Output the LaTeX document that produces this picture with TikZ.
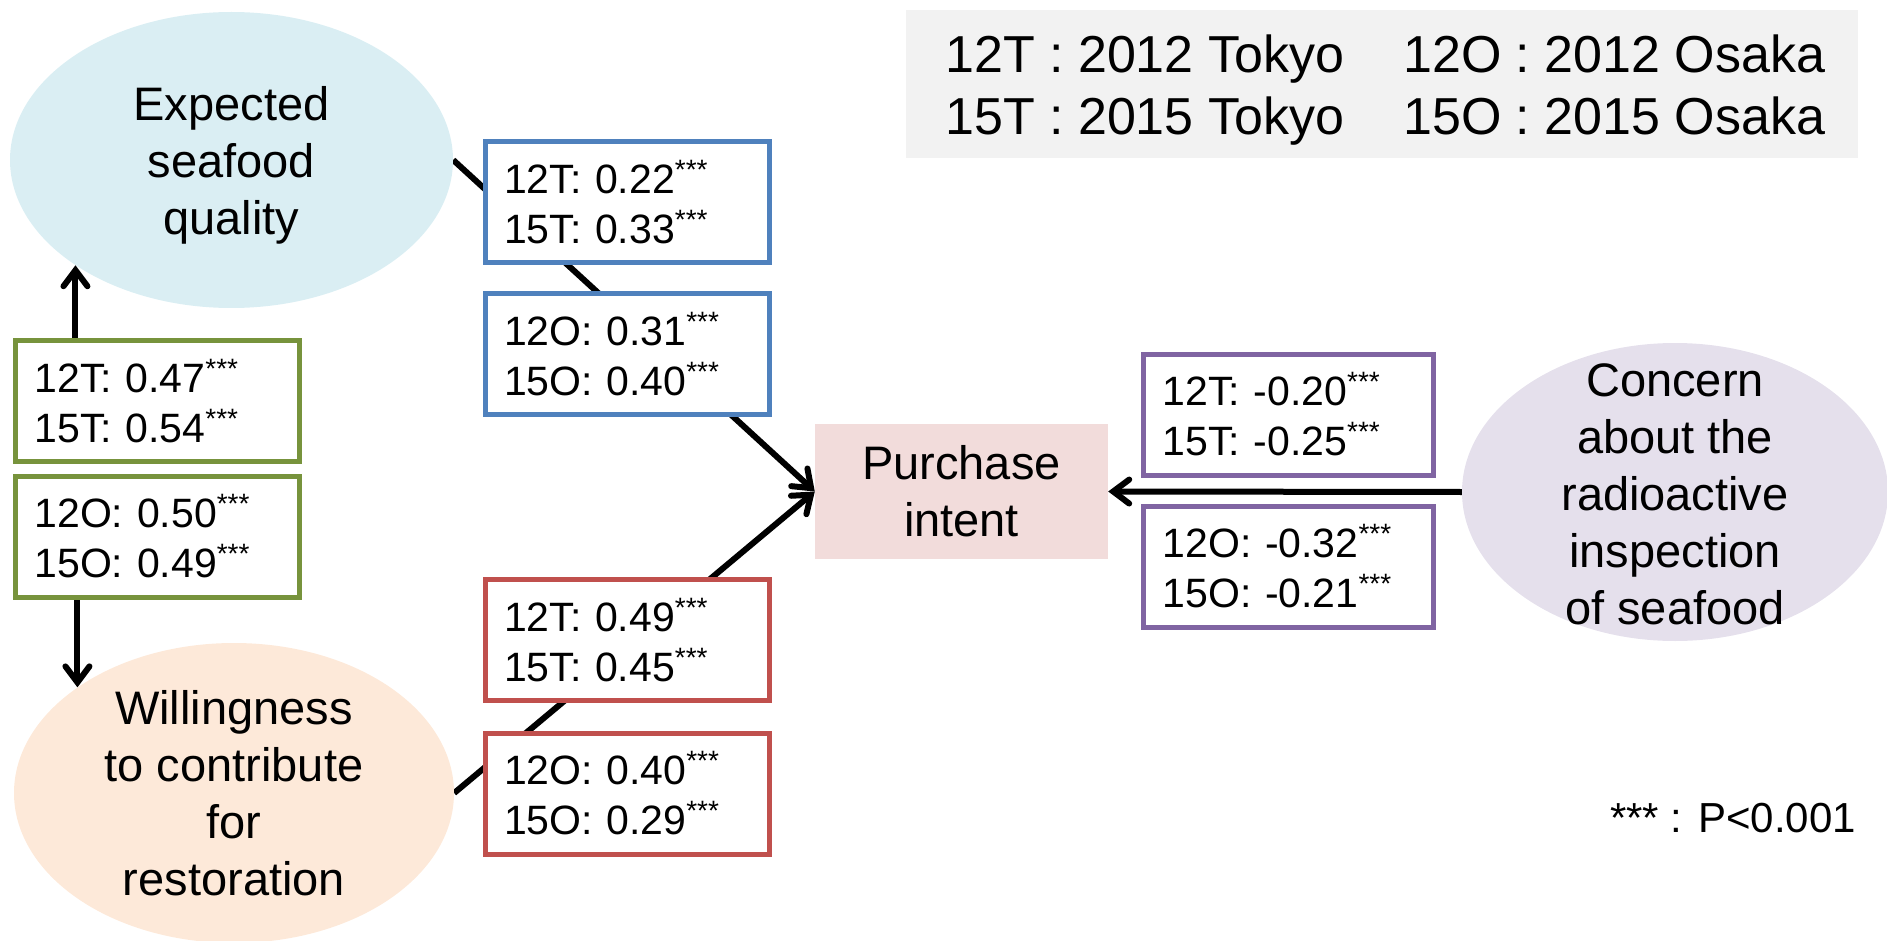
\documentclass[tikz,border=0pt]{standalone}
\usepackage{fontspec}
\setmainfont{Liberation Sans}
\usetikzlibrary{shapes.geometric,arrows.meta}
\pgfdeclarelayer{bg}
\pgfsetlayers{bg,main}
\definecolor{cblue}{HTML}{4F81BD}
\definecolor{cgreen}{HTML}{77933C}
\definecolor{cred}{HTML}{C0504D}
\definecolor{cpurple}{HTML}{8064A2}
\definecolor{fblue}{HTML}{DAEEF3}
\definecolor{forange}{HTML}{FDE9D9}
\definecolor{fpurple}{HTML}{E5E0EC}
\definecolor{fpink}{HTML}{F2DCDB}
\definecolor{fgrey}{HTML}{F2F2F2}
\newcommand\sigstars{\raisebox{14pt}{\fontsize{28}{28}\selectfont ***}}
\begin{document}
\begin{tikzpicture}[x=1pt,y=-1pt,
  coef/.style={draw, line width=5pt, fill=white, minimum width=284pt, minimum height=121pt,
    inner xsep=19pt, inner ysep=0pt, text width=246pt, align=left,
    font=\fontsize{41}{50}\selectfont},
  coefwide/.style={coef, minimum width=290pt, text width=252pt},
  latentshape/.style={ellipse, inner sep=0pt},
  latenttext/.style={inner sep=0pt, align=center, font=\fontsize{47}{57}\selectfont},
  conn/.style={line width=6pt, -{Straight Barb[length=16pt,width=24pt,line cap=round]}},
  legtext/.style={inner sep=0pt, anchor=base west, font=\fontsize{52}{62}\selectfont}]
\useasboundingbox (0,0) rectangle (1887,941);

% legend
\node[fill=fgrey, minimum width=952pt, minimum height=148pt, inner sep=0pt] (legend) at (1382,84) {};
\node[legtext] (l1) at (945,73) {12T : 2012 Tokyo};
\node[legtext] (l2) at (945,135) {15T : 2015 Tokyo};
\node[legtext] (l3) at (1403,73) {12O : 2012 Osaka};
\node[legtext] (l4) at (1403,135) {15O : 2015 Osaka};

% latent variables
\node[latentshape, fill=fblue, minimum width=443pt, minimum height=296pt] (eq) at (231.5,160) {};
\node[latenttext, yshift=-5pt] (eqt) at (eq) {Expected\\seafood\\quality};
\node[latentshape, fill=forange, minimum width=440pt, minimum height=300pt] (wc) at (234,793) {};
\node[latenttext] (wct) at (wc) {Willingness\\to contribute\\for\\restoration};
\node[latentshape, fill=fpurple, minimum width=426pt, minimum height=298pt] (cr) at (1675,492) {};
\node[latenttext, yshift=-2pt] (crt) at (cr) {Concern\\about the\\radioactive\\inspection\\of seafood};

\node[fill=fpink, minimum width=293pt, minimum height=135pt, inner sep=0pt,
  font=\fontsize{47}{57}\selectfont, align=center] (pi) at (961.5,491.5) {Purchase\\intent};

% coefficient boxes
\node[coef, draw=cgreen] (g1) at (157.5,401) {12T: 0.47\sigstars\\15T: 0.54\sigstars};
\node[coef, draw=cgreen] (g2) at (157.5,536.5) {12O: 0.50\sigstars\\15O: 0.49\sigstars};
\node[coef, draw=cblue] (b1) at (627,202) {12T: 0.22\sigstars\\15T: 0.33\sigstars};
\node[coef, draw=cblue] (b2) at (627,354) {12O: 0.31\sigstars\\15O: 0.40\sigstars};
\node[coef, draw=cred] (r1) at (627,640) {12T: 0.49\sigstars\\15T: 0.45\sigstars};
\node[coef, draw=cred] (r2) at (627,793.5) {12O: 0.40\sigstars\\15O: 0.29\sigstars};
\node[coefwide, draw=cpurple] (p1) at (1288.5,414.5) {12T: -0.20\sigstars\\15T: -0.25\sigstars};
\node[coefwide, draw=cpurple] (p2) at (1288.5,566.5) {12O: -0.32\sigstars\\15O: -0.21\sigstars};

\node[inner sep=0pt, anchor=base west, font=\fontsize{42}{50}\selectfont] (pval) at (1610,832) {*** : P<0.001};

% connectors
\begin{pgfonlayer}{bg}
\draw[conn] (eq.214 |- g1.north) -- (eq.214);
\draw[conn] (wc.146 |- g2.south) -- (wc.146);
\draw[conn] (eq.east) -- (pi.west);
\draw[conn] (wc.east) -- (pi.west);
\draw[conn] (cr.west) -- (pi.east);
\end{pgfonlayer}
\end{tikzpicture}
\end{document}
